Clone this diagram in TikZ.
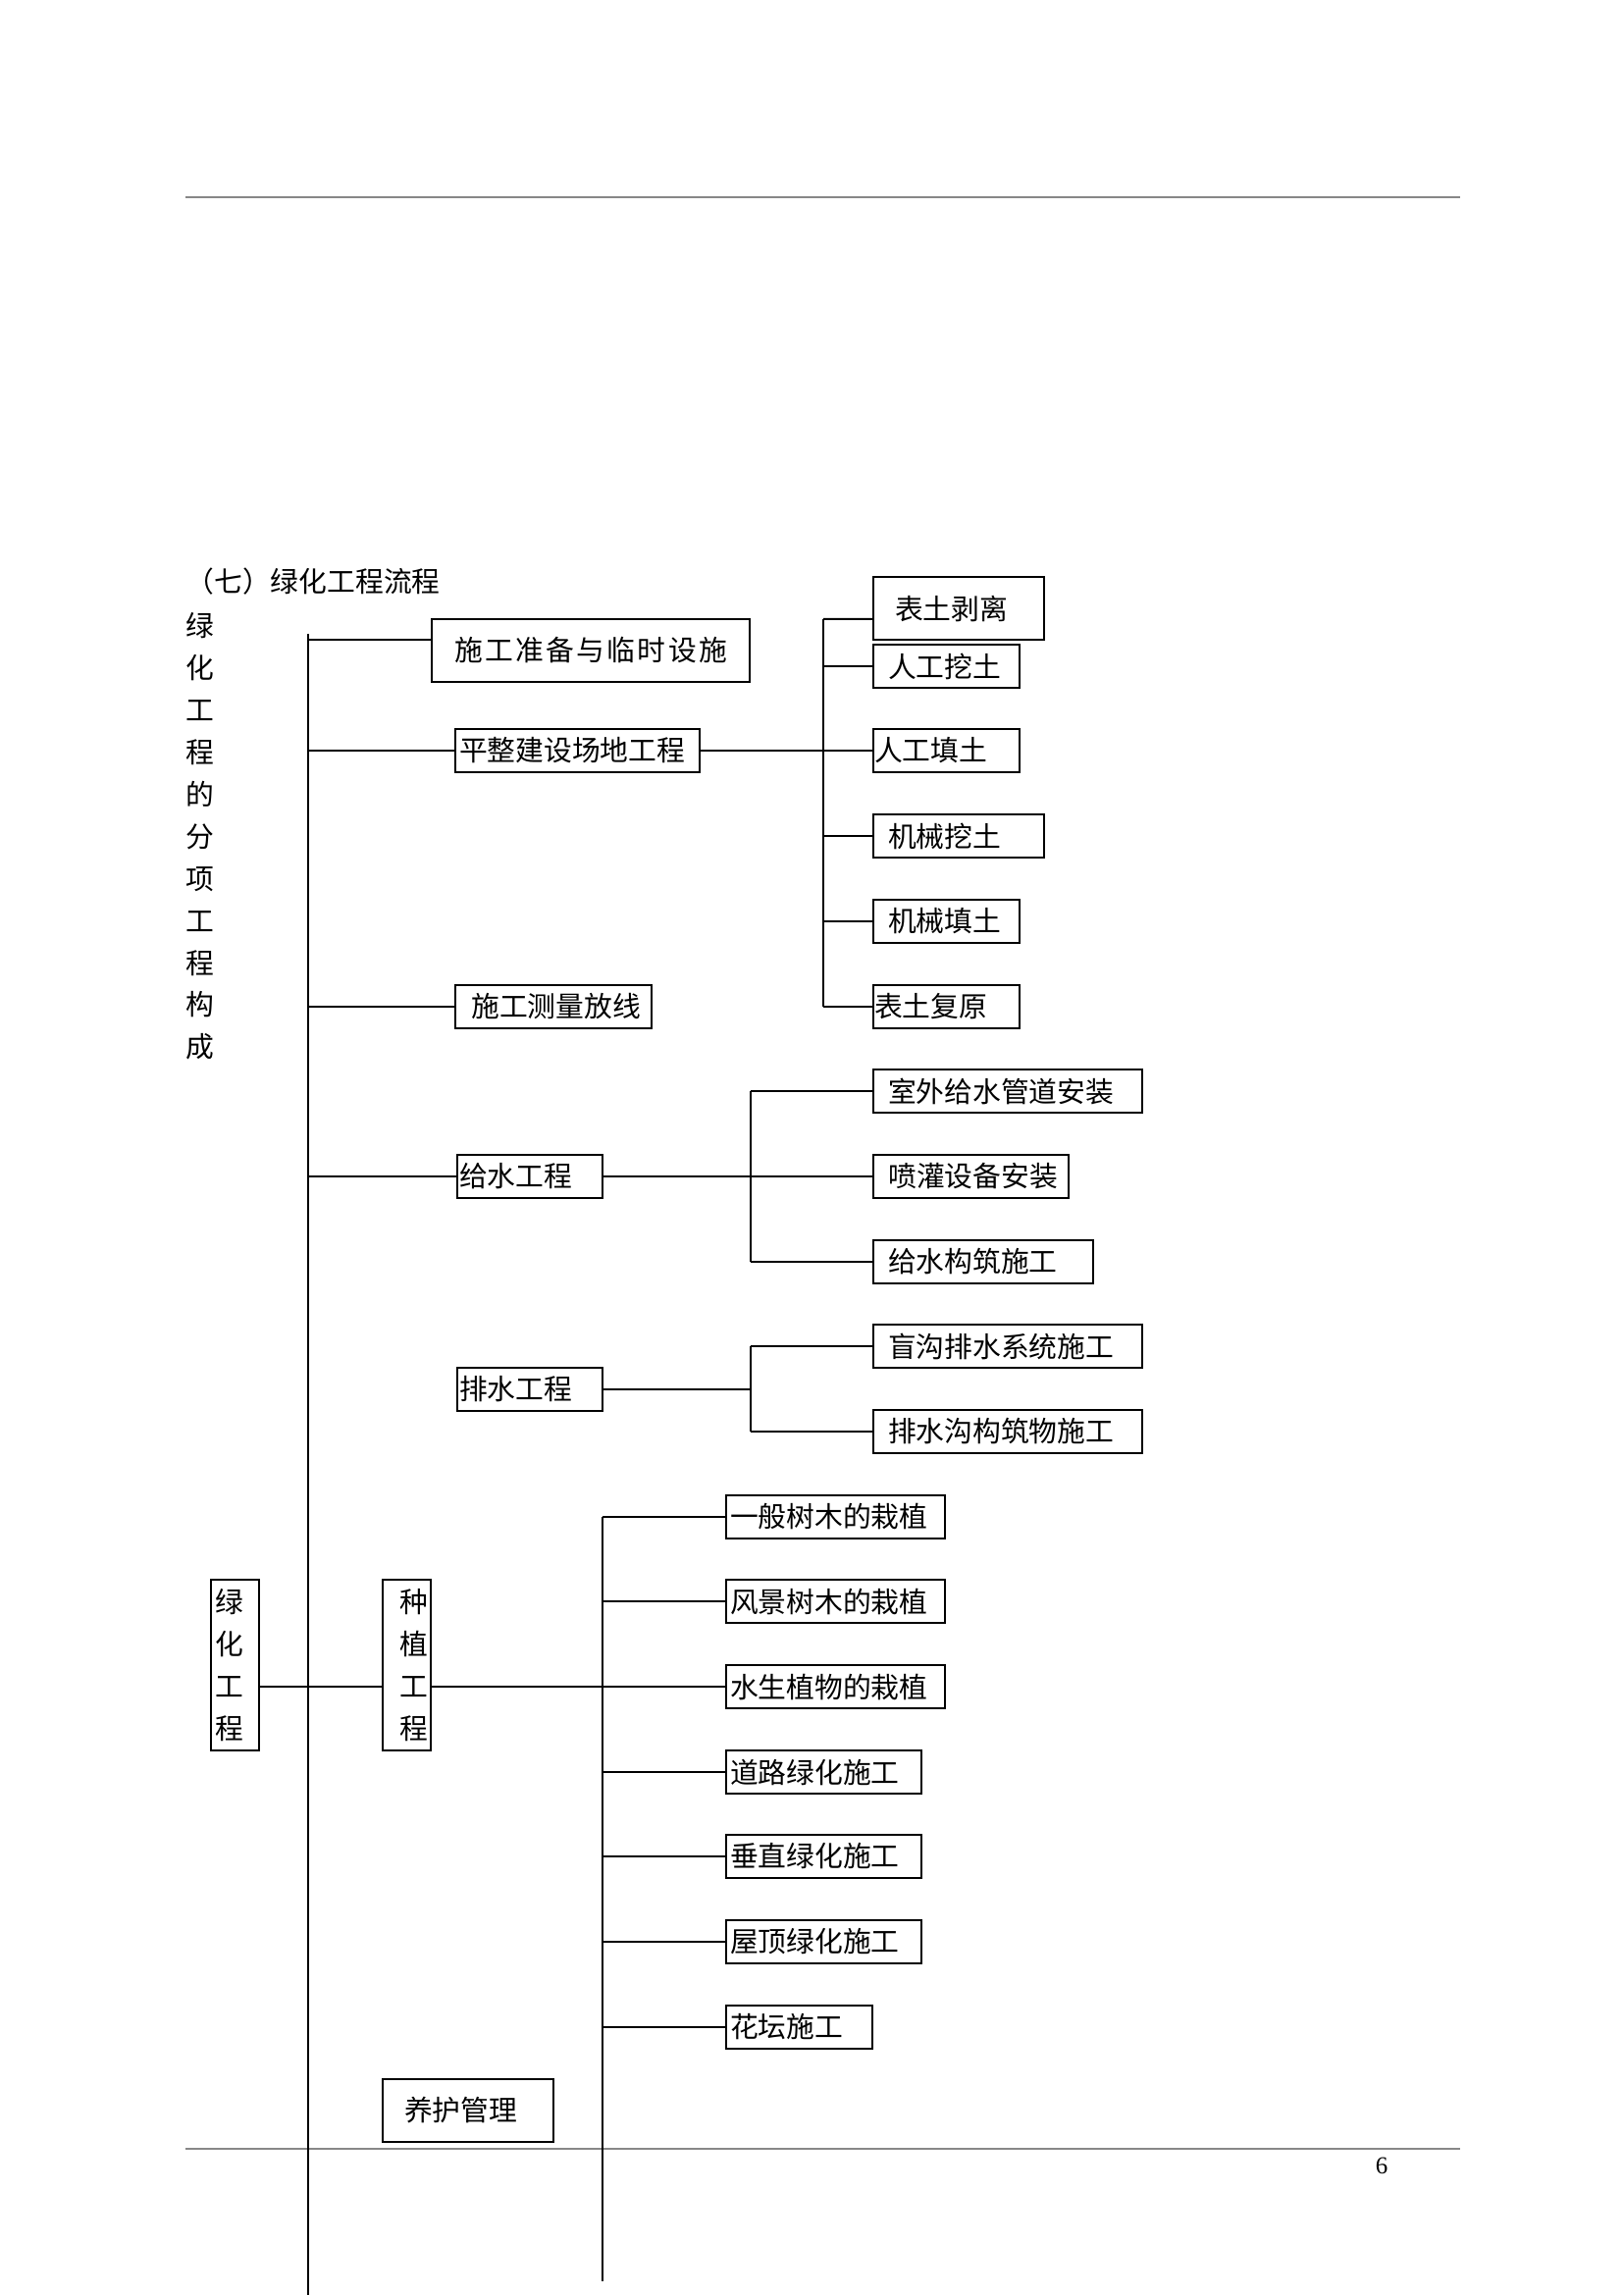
\documentclass[tikz,border=0pt]{standalone}
\usepackage{fontspec}
\usepackage{tikz}
\newfontfamily\cjk{Noto Sans CJK SC}
\newfontfamily\numfont{Liberation Serif}
\def\RuleColor{black!47}
\def\gap{\kern0.3mm}

\begin{document}
\begin{tikzpicture}[x=0.127mm, y=-0.127mm,
     B/.style = {draw, line width=.254mm, anchor=west, inner ysep=0pt,
                 minimum height=44*0.127mm,
                 font=\cjk\fontsize{10.4}{12}\selectfont},
     V/.style = {B, minimum height=174*0.127mm,
                 font=\cjk\fontsize{10.4}{15.6}\selectfont},
     T/.style 2 args = {text width=(#1-2*#2)*0.127mm, inner xsep=#2*0.127mm},
    every edge/.style = {draw, line width=.254mm}
                        ]
\useasboundingbox (0,0) rectangle (1654,2339);
% page rules
\draw[draw=\RuleColor, line width=.254mm] (189,201) -- (1488,201)
                                          (189,2190) -- (1488,2190);
\node[font=\numfont\fontsize{9}{11}\selectfont, inner sep=0pt] (pageno) at (1408,2207) {6};

\node[anchor=west, inner sep=0pt, font=\cjk\fontsize{10.4}{12}\selectfont] (title) at (189,593) {（七）绿化工程流程};
\node[inner sep=0pt, text width=32*0.127mm, align=center
     , font=\cjk\fontsize{10.4}{15.5}\selectfont
     ] (side) at (203.4,852.5) {绿\\化\\工\\程\\的\\分\\项\\工\\程\\构\\成};

% first level
\node[B, minimum width=324*0.127mm, inner xsep=0pt, minimum height=64*0.127mm] (prep) at (439,663) {施\gap 工\gap 准\gap 备\gap 与\gap 临\gap 时\gap 设\gap 施};
\node[B, T={249}{4}, align=left]      (level)  at (463,765)  {平整建设场地工程};
\node[B, T={200}{11}, align=right]    (survey) at (463,1026) {施工测量放线};
\node[B, T={148}{2}, align=left]      (water)  at (465,1199) {给水工程};
\node[B, T={148}{2}, align=left]      (drain)  at (465,1416) {排水工程};
\node[V, T={49}{4}, align=left]       (green)  at (214,1697) {绿\\化\\工\\程};
\node[V, T={49}{3}, align=right]      (plant)  at (389,1697) {种\\植\\工\\程};
\node[B, T={174}{22}, align=left, minimum height=64*0.127mm] (care) at (389,2151) {养护管理};

% earthwork
\node[B, T={174}{22}, align=left, minimum height=64*0.127mm] (strip) at (889,620) {表土剥离};
\node[B, T={149}{15}, align=left]     (mdig)    at (889,679)  {人工挖土};
\node[B, T={149}{1}, align=left]      (mfill)   at (889,765)  {人工填土};
\node[B, T={174}{15}, align=left]     (jdig)    at (889,852)  {机械挖土};
\node[B, T={149}{15}, align=left]     (jfill)   at (889,939)  {机械填土};
\node[B, T={149}{1}, align=left]      (restore) at (889,1026) {表土复原};

% water supply and drainage
\node[B, T={274}{15}, align=left]     (pipe)   at (889,1112) {室外给水管道安装};
\node[B, T={199}{11}, align=right]    (spray)  at (889,1199) {喷灌设备安装};
\node[B, T={224}{15}, align=left]     (struct) at (889,1286) {给水构筑施工};
\node[B, T={274}{15}, align=left]     (blind)  at (889,1372) {盲沟排水系统施工};
\node[B, T={274}{15}, align=left]     (ditch)  at (889,1459) {排水沟构筑物施工};

% planting
\node[B, T={223}{4}, align=left]      (tree)    at (739,1546) {一般树木的栽植};
\node[B, T={223}{4}, align=left]      (scenic)  at (739,1632) {风景树木的栽植};
\node[B, T={223}{4}, align=left]      (aquatic) at (739,1719) {水生植物的栽植};
\node[B, T={199}{4}, align=left]      (road)    at (739,1806) {道路绿化施工};
\node[B, T={199}{4}, align=left]      (wall)    at (739,1892) {垂直绿化施工};
\node[B, T={199}{4}, align=left]      (roof)    at (739,1979) {屋顶绿化施工};
\node[B, T={149}{4}, align=left]      (bed)     at (739,2066) {花坛施工};

\coordinate (trunk)      at (314,646);
\coordinate (trunkEnd)   at (314,2339);
\coordinate (soil)       at (839,631);
\coordinate (soilEnd)    at (839,1026);
\coordinate (pipes)      at (765,1112);
\coordinate (pipesEnd)   at (765,1286);
\coordinate (drains)     at (765,1372);
\coordinate (drainsEnd)  at (765,1459);
\coordinate (plants)     at (614,1546);
\coordinate (plantsEnd)  at (614,2325);
\coordinate (prepIn)     at ([yshift=1.397mm]prep.west);
\coordinate (stripIn)    at ([yshift=-1.397mm]strip.west);
\coordinate (greenOut)   at ([yshift=-2.794mm]green.east);

\draw[line width=.254mm] (trunk) -- (trunkEnd)
        (soil) -- (soilEnd)
        (pipes) -- (pipesEnd)
        (drains) -- (drainsEnd)
        (plants) -- (plantsEnd);
\draw   (trunk |- prepIn) edge (prepIn)
        (trunk |- level)  edge (level.west)
        (trunk |- survey) edge (survey.west)
        (trunk |- water)  edge (water.west)
        (level.east)      edge (mfill.west)
        (soil)            edge (stripIn)
        (soil |- mdig)    edge (mdig.west)
        (soil |- jdig)    edge (jdig.west)
        (soil |- jfill)   edge (jfill.west)
        (soilEnd)         edge (restore.west)
        (water.east)      edge (spray.west)
        (pipes)           edge (pipe.west)
        (pipesEnd)        edge (struct.west)
        (drain.east)      edge (drains |- drain)
        (drains)          edge (blind.west)
        (drainsEnd)       edge (ditch.west)
        (greenOut)        edge (greenOut -| plant.west)
        (plant.east |- aquatic) edge (aquatic.west)
        (plants)          edge (tree.west)
        (plants |- scenic) edge (scenic.west)
        (plants |- road)  edge (road.west)
        (plants |- wall)  edge (wall.west)
        (plants |- roof)  edge (roof.west)
        (plants |- bed)   edge (bed.west);
\end{tikzpicture}
\end{document}
